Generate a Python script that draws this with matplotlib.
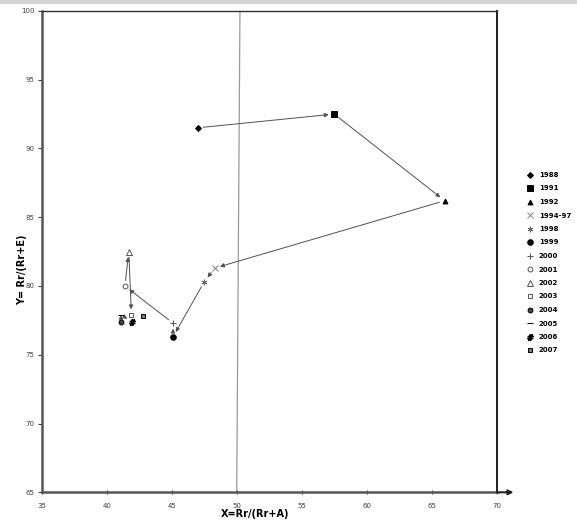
import matplotlib
matplotlib.use("Agg")
import matplotlib.pyplot as plt
from matplotlib.patches import Rectangle

# ---- data ----
labels = ["1988", "1991", "1992", "1994-97", "1998", "1999", "2000", "2001",
          "2002", "2003", "2004", "2005", "2006", "2007"]
x_vals = [47.0, 57.5, 66.0, 48.3, 47.5, 45.1, 45.1, 41.4, 41.7, 41.9, 41.1, 41.1, 41.95, 42.8]
y_vals = [91.5, 92.5, 86.2, 81.3, 80.3, 76.3, 77.3, 80.0, 82.5, 77.9, 77.4, 77.9, 77.4, 77.8]
# arrows: pairs of indices (from, to)
arrow_pairs = [(0, 1), (1, 2), (2, 3), (3, 4), (4, 5), (5, 6), (6, 7), (7, 8), (8, 9),
               (10, 11), (11, 12)]
x_ticks = [35, 40, 45, 50, 55, 60, 65, 70]
y_ticks = [65, 70, 75, 80, 85, 90, 95, 100]

# marker styles: (marker, facecolor, edgecolor, size)
styles = [
    ("D", "black", "black", 3.0),
    ("s", "black", "black", 4.0),
    ("^", "black", "black", 3.5),
    ("x", "#7f7f7f", "#7f7f7f", 4.0),
    ((6, 2, 0), "#666666", "#666666", 4.0),
    ("o", "black", "black", 4.0),
    ("+", "#555555", "#555555", 4.5),
    ("o", "white", "#555555", 3.5),
    ("^", "white", "#555555", 4.0),
    ("s", "white", "#555555", 3.5),
    ("o", "#444444", "black", 3.5),
    ("_", "black", "black", 4.5),
    ("$\\#$", "black", "black", 4.5),
    ("s", "#777777", "black", 3.5),
]

fig = plt.figure(figsize=(5.77, 5.27), dpi=100)
fig.patches.append(Rectangle((0, 1 - 3 / 527), 1, 3 / 527, transform=fig.transFigure,
                             color="#d4d4d4", zorder=0))
ax = fig.add_axes([41.7 / 577, 1 - 492.3 / 527, (496.7 - 41.7) / 577, (492.3 - 10.9) / 527])
ax.set_xlim(35, 70)
ax.set_ylim(65, 100)

# vertical reference line
ax.plot([50, 50.25], [65, 100], color="#999999", lw=0.9, zorder=1)

handles = []
for i, lab in enumerate(labels):
    m, fc, ec, ms = styles[i]
    h, = ax.plot([x_vals[i]], [y_vals[i]], linestyle="none", marker=m,
                 markerfacecolor=fc, markeredgecolor=ec, markersize=ms,
                 markeredgewidth=0.7, label=lab, zorder=3, clip_on=False)
    handles.append(h)

for a, b in arrow_pairs:
    ax.annotate("", xy=(x_vals[b], y_vals[b]), xytext=(x_vals[a], y_vals[a]),
                arrowprops=dict(arrowstyle="-|>", color="#505050", lw=0.7,
                                mutation_scale=6, shrinkA=4, shrinkB=4), zorder=2)

ax.set_xticks(x_ticks)
ax.set_yticks(y_ticks)
ax.tick_params(axis="both", labelsize=5, colors="#404040", length=3, width=0.8)
ax.tick_params(axis="x", direction="inout", pad=6)
ax.tick_params(axis="y", direction="out", pad=2)

for s in ["left", "bottom"]:
    ax.spines[s].set_color("#555555")
    ax.spines[s].set_linewidth(1.8)
ax.spines["top"].set_color("#303030")
ax.spines["top"].set_linewidth(1.0)
ax.spines["right"].set_color("#202020")
ax.spines["right"].set_linewidth(1.4)

# axis arrow extension
ax.annotate("", xy=(71.3, 65), xytext=(70, 65), xycoords="data",
            arrowprops=dict(arrowstyle="-|>", color="#222222", lw=1.5, mutation_scale=7,
                            shrinkA=0, shrinkB=0), annotation_clip=False)

fig.text(255 / 577, 1 - 514 / 527, "X=Rr/(Rr+A)", ha="center", va="center",
         fontsize=7, fontweight="bold")
fig.text(22 / 577, 1 - 270 / 527, "Y= Rr/(Rr+E)", ha="center", va="center",
         fontsize=7, fontweight="bold", rotation=90)

leg = fig.legend(handles=handles, loc="upper left",
                 bbox_to_anchor=(527 / 577, 1 - 172 / 527), bbox_transform=fig.transFigure,
                 frameon=False, fontsize=5, labelspacing=1.08, handlelength=1.0,
                 handletextpad=0.7, borderpad=0, borderaxespad=0, numpoints=1)
for t in leg.get_texts():
    t.set_fontweight("bold")

fig.savefig("out.png", dpi=100)
